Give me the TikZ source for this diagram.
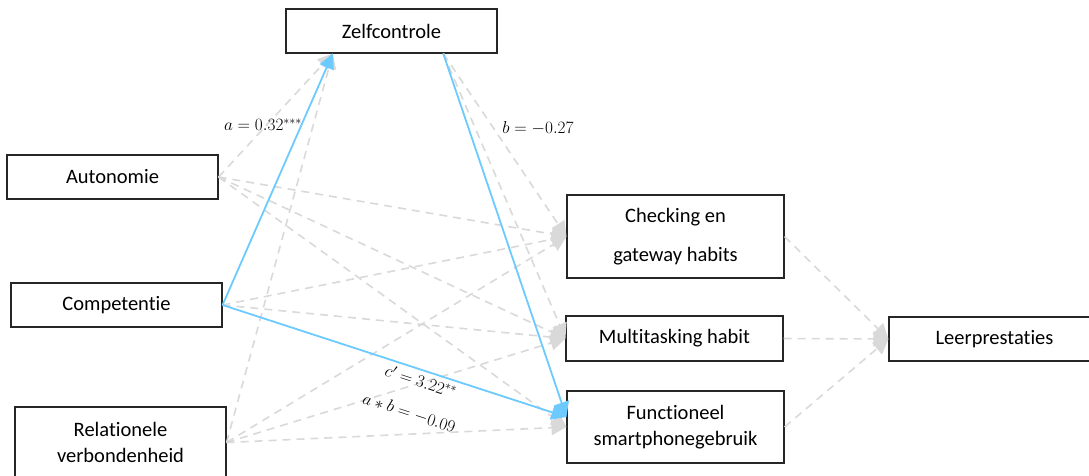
\documentclass[tikz,border=0pt]{standalone}
\usepackage[no-math]{fontspec}
\setmainfont{Carlito}[Ligatures=NoCommon]
\usetikzlibrary{arrows.meta,calc}
\definecolor{pathgray}{RGB}{217,217,217}
\definecolor{pathblue}{RGB}{108,202,255}
\begin{document}
\begin{tikzpicture}[x=1pt,y=-1pt,
  box/.style={draw=black!85, line width=1.1pt, fill=white, minimum width=211pt,
    inner sep=0pt, align=center, font=\fontsize{20.5}{26}\selectfont},
  ns/.style={draw=pathgray, line width=1.6pt, dash pattern=on 8pt off 6pt,
    -{Triangle[length=15pt,width=15pt,fill=pathgray]}},
  sig/.style={draw=pathblue, line width=1.8pt,
    -{Triangle[length=15pt,width=15pt,fill=pathblue]}},
  coef/.style={font=\fontsize{16.5}{19}\selectfont, inner sep=0pt}]
\useasboundingbox (0,0) rectangle (1089,475);

% variables
\node[box, minimum height=44pt] (zelf) at (391.5,31) {Zelfcontrole};
\node[box, minimum height=44pt] (auto) at (112.5,177) {Autonomie};
\node[box, minimum height=44pt] (comp) at (116.5,305) {Competentie};
\node[box, minimum height=71pt] (rel) at (120.5,442.5) {Relationele\\verbondenheid};
\node[box, minimum width=217pt, minimum height=83pt,
  font=\fontsize{20.5}{39}\selectfont] (check) at (675.5,236.5) {Checking en\\gateway habits};
\node[box, minimum width=217pt, minimum height=45pt] (multi) at (674.5,338.5) {Multitasking habit};
\node[box, minimum width=217pt, minimum height=72pt] (func) at (675.5,427) {Functioneel\\smartphonegebruik};
\node[box, minimum height=44pt] (leer) at (994.5,339) {Leerprestaties};

% attachment points
\coordinate (zin) at ($(zelf.south west)!0.223!(zelf.south east)$);
\coordinate (zout) at ($(zelf.south west)!0.744!(zelf.south east)$);
\coordinate (fsig) at ([yshift=10pt]func.west);

% non-significant paths
\draw[ns] (auto.east) -- (zin);
\draw[ns] (rel.east) -- (zin);
\foreach \s in {auto,comp,rel}{
  \draw[ns] (\s.east) -- (check.west);
  \draw[ns] (\s.east) -- (multi.west);
}
\draw[ns] (auto.east) -- (func.west);
\draw[ns] (rel.east) -- (func.west);
\draw[ns] (zout) -- (check.west);
\draw[ns] (zout) -- (multi.west);
\draw[ns] (check.east) -- (leer.west);
\draw[ns] (multi.east) -- (leer.west);
\draw[ns] (func.east) -- (leer.west);

% significant paths
\draw[sig] (comp.east) -- (zin);
\draw[sig] (comp.east) -- (fsig);
\draw[sig] (zout) -- (fsig);

% coefficients
\node[coef] (la) at (263,125) {$a = 0.32^{***}$};
\node[coef] (lb) at (538,128) {$b = -0.27$};
\node[coef, rotate=-18] (lc) at (421,381) {$c' = 3.22^{**}$};
\node[coef, rotate=-18] (lab) at (409,413) {$a * b = -0.09$};
\end{tikzpicture}
\end{document}
